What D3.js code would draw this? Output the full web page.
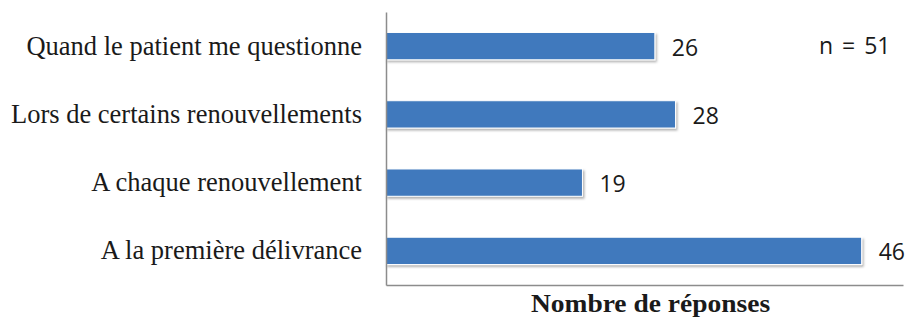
<!DOCTYPE html>
<html>
<head>
<meta charset="utf-8">
<script src="https://cdn.jsdelivr.net/npm/d3@7"></script>
<style>
  body { margin: 0; background: #fff; }
</style>
</head>
<body>
<div id="wrapper"></div>
<script>
const categories = [
  "Quand le patient me questionne",
  "Lors de certains renouvellements",
  "A chaque renouvellement",
  "A la première délivrance"
];
const values = [26, 28, 19, 46];
const xDomain = [0, 50];
const axisTitle = "Nombre de réponses";
const note = "n = 51";

const dimensions = {
  width: 906,
  height: 318,
  margin: { top: 12, right: 3, bottom: 33, left: 386 }
};
dimensions.boundedWidth = dimensions.width - dimensions.margin.left - dimensions.margin.right;
dimensions.boundedHeight = dimensions.height - dimensions.margin.top - dimensions.margin.bottom;

const serif = "'Liberation Serif', 'Times New Roman', serif";
const sans = "'Open Sans', 'Liberation Sans', sans-serif";
const titleStretch = 1.1;

const wrapper = d3.select("#wrapper")
  .append("svg")
  .attr("width", dimensions.width)
  .attr("height", dimensions.height);

const defs = wrapper.append("defs");
const shadow = defs.append("filter")
  .attr("id", "shadow")
  .attr("x", "-5%").attr("y", "-20%")
  .attr("width", "110%").attr("height", "160%");
shadow.append("feDropShadow")
  .attr("dx", 1.5).attr("dy", 2)
  .attr("stdDeviation", 1.2)
  .attr("flood-color", "#000")
  .attr("flood-opacity", 0.3);

const bounds = wrapper.append("g")
  .attr("transform", `translate(${dimensions.margin.left},${dimensions.margin.top})`);

const xScale = d3.scaleLinear()
  .domain(xDomain)
  .range([0, dimensions.boundedWidth]);

const yScale = d3.scaleBand()
  .domain(categories)
  .range([0, dimensions.boundedHeight])
  .paddingInner(0.6)
  .paddingOuter(0.3);

// bars
bounds.selectAll("rect.bar")
  .data(values)
  .enter()
  .append("rect")
  .attr("class", "bar")
  .attr("x", 0)
  .attr("y", (d, i) => yScale(categories[i]))
  .attr("width", d => xScale(d))
  .attr("height", yScale.bandwidth())
  .attr("fill", "#3f79bd")
  .attr("stroke", "#ffffff")
  .attr("stroke-width", 1)
  .attr("filter", "url(#shadow)");

// value labels
bounds.selectAll("text.value")
  .data(values)
  .enter()
  .append("text")
  .attr("class", "value")
  .attr("x", d => xScale(d) + 17)
  .attr("y", (d, i) => yScale(categories[i]) + yScale.bandwidth() / 2 + 1.5)
  .attr("dy", "0.35em")
  .attr("font-family", sans)
  .attr("font-size", 23)
  .attr("fill", "#1a1a1a")
  .text(d => d);

// y axis
const yAxis = bounds.append("g")
  .call(d3.axisLeft(yScale).tickSize(0).tickPadding(24));
yAxis.select(".domain").attr("stroke", "#8c8c8c").attr("stroke-width", 1.5);
yAxis.selectAll("text")
  .attr("font-family", serif)
  .attr("font-size", 26.5)
  .attr("fill", "#1a1a1a");

// x axis (line only)
const xAxis = bounds.append("g")
  .attr("transform", `translate(0,${dimensions.boundedHeight})`)
  .call(d3.axisBottom(xScale).tickSize(0).tickFormat(""));
xAxis.select(".domain").attr("stroke", "#8c8c8c").attr("stroke-width", 1.5);

xAxis.append("text")
  .attr("transform", `translate(${dimensions.boundedWidth / 2 + 6},27) scale(${titleStretch},1)`)
  .attr("text-anchor", "middle")
  .attr("font-family", serif)
  .attr("font-weight", "bold")
  .attr("font-size", 25)
  .attr("fill", "#1a1a1a")
  .text(axisTitle);

wrapper.append("text")
  .attr("x", 819)
  .attr("y", 54)
  .attr("font-family", sans)
  .attr("font-size", 23)
  .attr("word-spacing", 3)
  .attr("fill", "#1a1a1a")
  .text(note);
</script>
</body>
</html>
